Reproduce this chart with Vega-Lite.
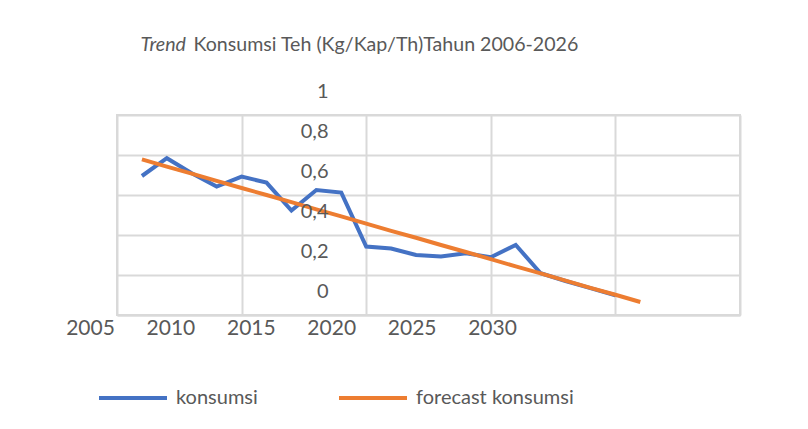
{
  "$schema": "https://vega.github.io/schema/vega-lite/v6.json",
  "width": 623,
  "height": 200,
  "autosize": {"type": "none"},
  "padding": {"left": 117, "top": 115, "right": 68, "bottom": 114},
  "background": "white",
  "config": {
    "view": {"stroke": "#d9d9d9", "strokeWidth": 2},
    "font": "Lato"
  },
  "data": {
    "values": [
      {"year": 2006, "series": "konsumsi", "v": 0.695},
      {"year": 2007, "series": "konsumsi", "v": 0.784},
      {"year": 2008, "series": "konsumsi", "v": 0.709},
      {"year": 2009, "series": "konsumsi", "v": 0.642},
      {"year": 2010, "series": "konsumsi", "v": 0.692},
      {"year": 2011, "series": "konsumsi", "v": 0.662},
      {"year": 2012, "series": "konsumsi", "v": 0.522},
      {"year": 2013, "series": "konsumsi", "v": 0.625},
      {"year": 2014, "series": "konsumsi", "v": 0.612},
      {"year": 2015, "series": "konsumsi", "v": 0.342},
      {"year": 2016, "series": "konsumsi", "v": 0.332},
      {"year": 2017, "series": "konsumsi", "v": 0.300},
      {"year": 2018, "series": "konsumsi", "v": 0.292},
      {"year": 2019, "series": "konsumsi", "v": 0.309},
      {"year": 2020, "series": "konsumsi", "v": 0.289},
      {"year": 2021, "series": "konsumsi", "v": 0.350},
      {"year": 2022, "series": "konsumsi", "v": 0.209},
      {"year": 2023, "series": "konsumsi", "v": 0.170},
      {"year": 2024, "series": "konsumsi", "v": 0.134},
      {"year": 2025, "series": "konsumsi", "v": 0.099},
      {"year": 2006, "series": "forecast konsumsi", "v": 0.778},
      {"year": 2007, "series": "forecast konsumsi", "v": 0.742},
      {"year": 2008, "series": "forecast konsumsi", "v": 0.707},
      {"year": 2009, "series": "forecast konsumsi", "v": 0.671},
      {"year": 2010, "series": "forecast konsumsi", "v": 0.635},
      {"year": 2011, "series": "forecast konsumsi", "v": 0.600},
      {"year": 2012, "series": "forecast konsumsi", "v": 0.564},
      {"year": 2013, "series": "forecast konsumsi", "v": 0.528},
      {"year": 2014, "series": "forecast konsumsi", "v": 0.493},
      {"year": 2015, "series": "forecast konsumsi", "v": 0.457},
      {"year": 2016, "series": "forecast konsumsi", "v": 0.421},
      {"year": 2017, "series": "forecast konsumsi", "v": 0.386},
      {"year": 2018, "series": "forecast konsumsi", "v": 0.350},
      {"year": 2019, "series": "forecast konsumsi", "v": 0.315},
      {"year": 2020, "series": "forecast konsumsi", "v": 0.279},
      {"year": 2021, "series": "forecast konsumsi", "v": 0.243},
      {"year": 2022, "series": "forecast konsumsi", "v": 0.208},
      {"year": 2023, "series": "forecast konsumsi", "v": 0.172},
      {"year": 2024, "series": "forecast konsumsi", "v": 0.136},
      {"year": 2025, "series": "forecast konsumsi", "v": 0.101},
      {"year": 2026, "series": "forecast konsumsi", "v": 0.065}
    ]
  },
  "layer": [
    {
      "layer": [
        {
          "transform": [{"filter": "datum.series === 'konsumsi'"}],
          "mark": {"type": "line", "strokeWidth": 4, "strokeJoin": "miter", "strokeCap": "butt"},
          "encoding": {
            "x": {
              "field": "year", "type": "quantitative",
              "scale": {"domain": [2005, 2030], "nice": false, "zero": false},
              "axis": {
                "orient": "bottom", "title": null, "labels": false, "ticks": false,
                "grid": true, "gridColor": "#d9d9d9", "gridWidth": 2,
                "domain": true, "domainColor": "#d9d9d9", "domainWidth": 2,
                "tickCount": 10,
                "values": [2005, 2010, 2015, 2020, 2025, 2030]
              }
            },
            "y": {
              "field": "v", "type": "quantitative",
              "scale": {"domain": [0, 1], "nice": false, "zero": false},
              "axis": {
                "orient": "left", "labels": false, "ticks": false,
                "grid": true, "gridColor": "#d9d9d9", "gridWidth": 2,
                "domain": false, "labelOverlap": false, "tickCount": 10,
                "values": [0, 0.2, 0.4, 0.6, 0.8, 1],
                "title": "Konsumsi Teh (Kg/Kap/Th)Tahun 2006-2026",
                "titleFont": "Lato", "titleFontSize": 19.6, "titleFontWeight": "normal",
                "titleColor": "#595959", "titleAngle": 0,
                "titleX": 76, "titleY": -65, "titleAlign": "left", "titleBaseline": "alphabetic"
              }
            },
            "color": {
              "field": "series", "type": "nominal",
              "scale": {"domain": ["konsumsi", "forecast konsumsi"], "range": ["#4472C4", "#ED7D31"]},
              "legend": {
                "title": null, "orient": "none", "direction": "horizontal",
                "legendX": -20, "legendY": 247,
                "symbolType": "stroke", "symbolSize": 4624, "symbolStrokeWidth": 4,
                "labelFont": "Lato", "labelFontSize": 20, "labelColor": "#595959",
                "labelOffset": 7, "columnPadding": 73, "padding": 0
              }
            }
          }
        },
        {
          "transform": [{"filter": "datum.series === 'forecast konsumsi'"}],
          "mark": {"type": "line", "strokeWidth": 4, "strokeCap": "butt"},
          "encoding": {
            "x": {"field": "year", "type": "quantitative"},
            "y": {"field": "v", "type": "quantitative"},
            "color": {"field": "series", "type": "nominal"}
          }
        }
      ]
    },
    {
      "mark": {"type": "point", "opacity": 0},
      "encoding": {
        "x": {
          "field": "year", "type": "quantitative",
          "scale": {"domain": [2005, 2043.74], "nice": false, "zero": false},
          "axis": {
            "orient": "bottom", "grid": false, "ticks": false, "domain": false,
            "values": [2005, 2010, 2015, 2020, 2025, 2030], "tickCount": 10,
            "labelOffset": -27, "labelFlush": false, "labelPadding": 2,
            "labelFont": "Lato", "labelFontSize": 21, "labelColor": "#595959",
            "labelOverlap": false, "format": "d",
            "title": "Trend", "titleFont": "Lato", "titleFontSize": 19.6,
            "titleFontStyle": "italic", "titleFontWeight": "normal", "titleColor": "#595959",
            "titleX": 23, "titleY": -265, "titleAlign": "left", "titleBaseline": "alphabetic",
            "titleAngle": 0
          }
        },
        "y": {
          "field": "v", "type": "quantitative",
          "scale": {"domain": [0, 1], "nice": false, "zero": false},
          "axis": {
            "orient": "left", "grid": false, "ticks": false, "domain": false,
            "values": [0, 0.2, 0.4, 0.6, 0.8, 1], "tickCount": 10,
            "offset": -211, "labelOffset": -24, "labelPadding": 0,
            "labelAlign": "right",
            "labelExpr": "replace(format(datum.value, '.1~f'), '.', ',')",
            "labelFont": "Lato", "labelFontSize": 20, "labelColor": "#595959",
            "labelOverlap": false, "labelFlush": false, "title": null, "zindex": 1
          }
        }
      }
    }
  ],
  "resolve": {
    "scale": {"x": "independent", "y": "independent"},
    "axis": {"x": "independent", "y": "independent"}
  }
}
